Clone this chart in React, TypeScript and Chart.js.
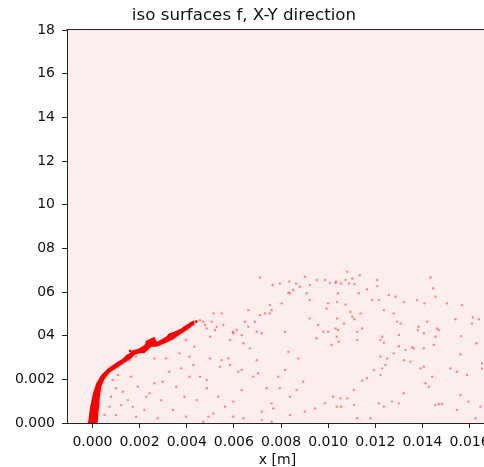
import { useEffect, useRef } from "react";
import { Chart, registerables } from "chart.js";

Chart.register(...registerables);
Chart.defaults.font.family = "'DejaVu Sans', sans-serif";

const TITLE = "iso surfaces f, X-Y direction";
const X_AXIS_TITLE = "x [m]";

// Axis ranges and ticks (metres)
const X_RANGE_M = [-0.00108, 0.01678];
const Y_RANGE_M = [0, 0.018];
const X_TICKS_M = [0, 0.002, 0.004, 0.006, 0.008, 0.01, 0.012, 0.014, 0.016];
const X_TICK_LABELS = ["0.000", "0.002", "0.004", "0.006", "0.008", "0.010", "0.012", "0.014", "0.016"];
const Y_TICKS_M = [0, 0.002, 0.004, 0.006, 0.008, 0.01, 0.012, 0.014, 0.016, 0.018];
const Y_TICK_LABELS = ["0.000", "0.002", "04", "06", "08", "10", "12", "14", "16", "18"];

// Liquid core outline, [x, y] in mm: upper edge outward, lower edge back to the nozzle
const CORE_OUTLINE_MM: [number, number][] = [
  [-0.19, 0], [-0.1, 0.75], [0.02, 1.36], [0.16, 1.82], [0.37, 2.2], [0.65, 2.5],
  [1.0, 2.76], [1.29, 2.96], [1.43, 3.11], [1.57, 3.19], [1.71, 3.34], [1.85, 3.37],
  [1.99, 3.42], [2.2, 3.57], [2.35, 3.8], [2.49, 3.88], [2.63, 3.92], [2.73, 3.72],
  [2.91, 3.83], [3.12, 3.95], [3.26, 4.11], [3.47, 4.18], [3.62, 4.26], [3.76, 4.33],
  [3.9, 4.44], [4.04, 4.53], [4.18, 4.64], [4.32, 4.71],
  [4.32, 4.53], [4.11, 4.33], [3.9, 4.18], [3.69, 4.03], [3.41, 3.83], [3.12, 3.68],
  [2.91, 3.57], [2.7, 3.49], [2.49, 3.49], [2.35, 3.34], [2.2, 3.19], [1.99, 3.19],
  [1.78, 3.11], [1.64, 2.96], [1.43, 2.81], [1.22, 2.66], [1.0, 2.5], [0.72, 2.3],
  [0.51, 2.0], [0.37, 1.66], [0.3, 1.05], [0.22, 0],
];

// Ligament fragments along the core edge, [x, y] in mm
const LIGAMENTS_MM: [number, number][] = [
  [1.6, 3.3], [2.3, 3.72], [2.6, 3.86], [2.8, 3.62], [3.3, 4.05], [3.55, 4.14],
  [4.4, 4.64], [2.95, 3.75], [4.22, 4.56],
];

// Dispersed droplets, [x, y] in mm
const DROPLETS_MM: [number, number][] = [
  [4.32, 3.49], [4.11, 3.04], [3.12, 2.96], [2.63, 2.96], [1.85, 3.04], [1.57, 2.88],
  [1.08, 2.2], [0.86, 1.97], [1.0, 1.59], [0.79, 1.2], [1.29, 1.43], [1.5, 1.05],
  [1.71, 0.75], [1.22, 0.82], [0.72, 0.75], [0.51, 0.37], [1.0, 0.37], [1.85, 0.29],
  [2.2, 0.6], [2.42, 1.36], [2.63, 1.82], [2.91, 1.05], [2.98, 1.89], [3.26, 2.35],
  [3.76, 2.5], [4.11, 2.12], [3.55, 1.66], [3.9, 1.2], [3.41, 0.6], [3.97, 0.29],
  [2.77, 0.22], [2.28, 1.2], [1.92, 1.66], [1.64, 2.12], [3.69, 3.19], [3.97, 3.8],
  [7.11, 6.67], [7.64, 6.32], [7.95, 6.39], [8.35, 6.47], [8.63, 6.39], [8.8, 6.24],
  [9.01, 6.7], [9.22, 6.32], [9.51, 6.55], [9.86, 6.55], [10.07, 6.42], [10.33, 6.47],
  [8.38, 5.94], [8.31, 5.96], [8.52, 6.09], [9.09, 5.94], [10.0, 5.48], [9.93, 5.25],
  [9.22, 5.63], [8.03, 5.48], [7.53, 5.4], [7.6, 5.17], [7.32, 5.02], [7.53, 5.02],
  [7.11, 4.94], [6.89, 4.64], [6.61, 5.17], [6.47, 4.64], [6.61, 4.41], [6.12, 4.26],
  [5.97, 4.18], [5.55, 4.49], [5.48, 5.02], [5.13, 5.02], [5.06, 4.64], [4.78, 4.49],
  [4.7, 4.64], [4.56, 4.71], [4.28, 4.49], [4.85, 4.33], [4.99, 3.95], [5.2, 4.26],
  [5.27, 4.41], [5.84, 3.8], [5.97, 4.11], [6.33, 4.03], [6.4, 3.65], [6.68, 3.42],
  [6.97, 4.18], [7.18, 4.11], [8.17, 4.18], [8.31, 3.26], [8.73, 2.96], [9.22, 4.79],
  [9.51, 3.88], [9.79, 4.18], [10.0, 4.18], [9.58, 4.49], [10.14, 3.57], [10.36, 3.95],
  [4.28, 2.66], [4.99, 2.96], [5.48, 2.88], [5.76, 2.96], [5.84, 2.66], [5.41, 2.58],
  [6.19, 2.35], [6.33, 2.43], [6.97, 2.88], [6.82, 2.12], [7.03, 2.28], [7.88, 2.12],
  [8.17, 2.43], [8.94, 1.89], [4.56, 2.12], [4.85, 1.97], [4.85, 1.59], [6.33, 1.51],
  [7.39, 1.59], [7.95, 1.59], [8.66, 1.51], [4.42, 1.05], [5.34, 1.2], [5.97, 0.98],
  [7.6, 0.9], [8.38, 1.2], [9.86, 0.9], [10.21, 1.2], [10.36, 0.75], [5.13, 0.44],
  [5.62, 0.75], [7.18, 0.52], [7.67, 0.67], [8.38, 0.37], [9.01, 0.52], [9.44, 0.67],
  [4.7, 0.06], [7.18, 0.14], [7.6, 0.06], [4.92, 0.29], [5.97, 0.29], [6.4, 0.22],
  [10.81, 6.93], [10.74, 6.55], [10.88, 6.39], [11.02, 6.62], [11.12, 6.36], [11.34, 6.77],
  [10.31, 6.42], [10.55, 6.39], [11.65, 6.12], [11.3, 5.94], [12.08, 6.55], [12.08, 6.27],
  [10.41, 5.94], [10.74, 5.43], [10.38, 5.55], [10.95, 5.09], [11.02, 4.87], [11.12, 4.75],
  [11.37, 5.02], [10.38, 4.79], [10.67, 4.56], [10.31, 4.33], [10.41, 4.26], [11.23, 4.18],
  [11.44, 4.33], [11.23, 3.8], [10.45, 3.72], [11.86, 5.63], [12.15, 5.63], [12.36, 5.17],
  [12.57, 5.86], [12.86, 5.78], [13.21, 5.55], [13.07, 4.56], [12.92, 4.64], [12.78, 5.02],
  [13.0, 4.03], [13.0, 3.52], [12.78, 3.19], [12.22, 3.8], [12.36, 3.68], [12.29, 3.95],
  [12.5, 2.96], [12.22, 3.04], [12.43, 2.66], [12.29, 2.5], [11.94, 2.43], [11.65, 2.05],
  [11.44, 1.94], [12.22, 2.2], [13.77, 5.63], [14.08, 5.48], [14.34, 6.67], [14.45, 6.17],
  [14.55, 5.78], [14.2, 4.64], [13.84, 4.41], [13.8, 4.26], [14.06, 4.11], [14.62, 4.33],
  [14.69, 4.26], [14.55, 3.95], [14.48, 3.57], [13.63, 3.42], [13.56, 3.47], [14.06, 3.42],
  [15.04, 5.48], [15.68, 5.4], [15.4, 4.75], [16.14, 4.84], [16.1, 4.56], [16.39, 4.75],
  [15.64, 3.98], [16.29, 3.65], [15.61, 3.14], [15.19, 2.5], [15.47, 2.35], [16.53, 2.73],
  [16.53, 2.5], [15.89, 2.2], [14.41, 2.12], [14.06, 2.58], [13.92, 2.5], [13.49, 2.81],
  [13.21, 2.88], [13.28, 3.34], [14.13, 1.82], [14.27, 1.66], [13.21, 1.36], [13.0, 0.9],
  [12.71, 0.98], [12.36, 0.75], [12.15, 0.9], [14.55, 0.82], [14.69, 0.87], [14.83, 0.87],
  [15.61, 1.28], [15.96, 0.98], [16.46, 0.75], [16.25, 0.22], [15.47, 0.6], [11.09, 1.51],
  [10.81, 1.13], [10.53, 1.13], [10.55, 0.75], [11.09, 0.82], [11.8, 0.22], [11.23, 0.22],
];

const PLOT_BG = "rgb(253, 238, 238)";
const CORE_RED = "rgb(255, 0, 0)";
const DROPLET_RED = "rgba(255, 30, 30, 0.5)";
const AXIS_INK = "#222222";
const TEXT_INK = "#111111";

const mmToM = (pts: [number, number][]) => pts.map(([x, y]) => ({ x: x / 1000, y: y / 1000 }));

// Fills the axes background and draws the upper and right spines
const axesFrame = {
  id: "axesFrame",
  beforeDraw(chart: Chart) {
    const { ctx, chartArea: a } = chart;
    ctx.save();
    ctx.fillStyle = PLOT_BG;
    ctx.fillRect(a.left, a.top, a.right - a.left, a.bottom - a.top);
    ctx.restore();
  },
  afterDraw(chart: Chart) {
    const { ctx, chartArea: a } = chart;
    ctx.save();
    ctx.strokeStyle = AXIS_INK;
    ctx.lineWidth = 1;
    ctx.beginPath();
    const top = Math.round(a.top) - 0.5;
    const right = Math.round(a.right) - 0.5;
    ctx.moveTo(a.left - 0.5, top);
    ctx.lineTo(right, top);
    ctx.lineTo(right, a.bottom);
    ctx.stroke();
    ctx.restore();
  },
};

export default function App() {
  const canvasRef = useRef<HTMLCanvasElement | null>(null);

  useEffect(() => {
    if (!canvasRef.current) return;
    const chart = new Chart(canvasRef.current, {
      type: "scatter",
      data: {
        datasets: [
          {
            label: "liquid core",
            data: mmToM(CORE_OUTLINE_MM),
            showLine: true,
            fill: "shape",
            backgroundColor: CORE_RED,
            borderColor: CORE_RED,
            borderWidth: 0,
            pointRadius: 0,
            pointHoverRadius: 0,
            tension: 0,
          },
          {
            label: "ligaments",
            data: mmToM(LIGAMENTS_MM),
            pointRadius: 1.4,
            pointHoverRadius: 1.4,
            pointBorderWidth: 0,
            pointBackgroundColor: CORE_RED,
            backgroundColor: CORE_RED,
          },
          {
            label: "droplets",
            data: mmToM(DROPLETS_MM),
            pointRadius: 1.2,
            pointHoverRadius: 1.2,
            pointBorderWidth: 0,
            pointBackgroundColor: DROPLET_RED,
            backgroundColor: DROPLET_RED,
          },
        ],
      },
      options: {
        animation: false,
        responsive: true,
        maintainAspectRatio: false,
        layout: { padding: { top: 0, right: 12, bottom: 0, left: 0 } },
        plugins: {
          legend: { display: false },
          tooltip: { enabled: false },
          title: {
            display: true,
            text: TITLE,
            color: TEXT_INK,
            font: { size: 16.7, weight: "normal" },
            padding: { top: 6, bottom: 4 },
          },
        },
        scales: {
          x: {
            type: "linear",
            min: X_RANGE_M[0],
            max: X_RANGE_M[1],
            afterBuildTicks: (s: any) => {
              s.ticks = X_TICKS_M.map((value) => ({ value }));
            },
            afterFit: (s: any) => {
              s.height = 44;
            },
            grid: { drawOnChartArea: false, drawTicks: true, tickLength: 5, tickColor: AXIS_INK },
            border: { color: AXIS_INK, width: 1 },
            ticks: {
              autoSkip: false,
              maxRotation: 0,
              padding: 6,
              color: TEXT_INK,
              font: { size: 14 },
              callback: (_v: any, i: number) => X_TICK_LABELS[i],
            },
            title: {
              display: true,
              text: X_AXIS_TITLE,
              color: TEXT_INK,
              font: { size: 14, lineHeight: 1 },
              padding: { top: 0, bottom: 0 },
            },
          },
          y: {
            type: "linear",
            min: Y_RANGE_M[0],
            max: Y_RANGE_M[1],
            afterBuildTicks: (s: any) => {
              s.ticks = Y_TICKS_M.map((value) => ({ value }));
            },
            afterFit: (s: any) => {
              s.width = 67;
            },
            grid: { drawOnChartArea: false, drawTicks: true, tickLength: 5, tickColor: AXIS_INK },
            border: { color: AXIS_INK, width: 1 },
            ticks: {
              autoSkip: false,
              padding: 7,
              color: TEXT_INK,
              font: { size: 14 },
              callback: (_v: any, i: number) => Y_TICK_LABELS[i],
            },
          },
        },
      },
      plugins: [axesFrame],
    });
    return () => chart.destroy();
  }, []);

  return (
    <div
      style={{
        position: "absolute",
        left: 0,
        top: 0,
        width: 484,
        height: 467,
        overflow: "hidden",
        background: "#ffffff",
      }}
    >
      <div style={{ position: "relative", width: 500, height: 467 }}>
        <canvas ref={canvasRef} />
      </div>
    </div>
  );
}
